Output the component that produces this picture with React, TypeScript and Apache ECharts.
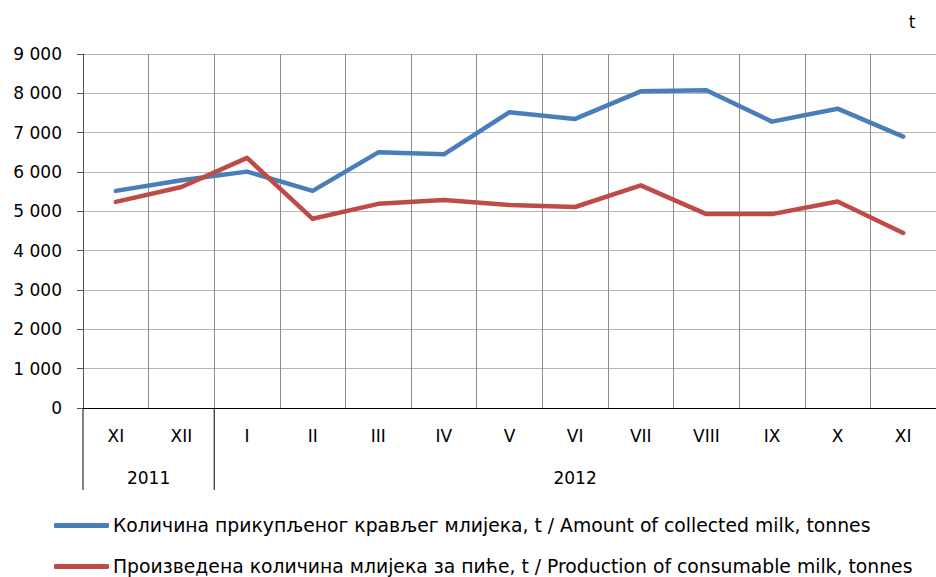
import React, { useEffect, useRef } from "react";
import * as echarts from "echarts";

const months = ["XI", "XII", "I", "II", "III", "IV", "V", "VI", "VII", "VIII", "IX", "X", "XI"];
const years = [
  { label: "2011", from: 0, to: 1 },
  { label: "2012", from: 2, to: 12 },
];
const collectedMilk = [5520, 5790, 6010, 5520, 6500, 6450, 7520, 7350, 8050, 8080, 7280, 7610, 6900];
const consumableMilk = [5240, 5620, 6360, 4810, 5190, 5290, 5160, 5110, 5660, 4930, 4930, 5250, 4450];
const seriesNames = [
  "Количина прикупљеног крављег млијека, t / Amount of collected milk, tonnes",
  "Произведена количина млијека за пиће, t / Production of consumable milk, tonnes",
];
const yTicks = { min: 0, max: 9000, interval: 1000 };
const unitLabel = "t";

const FONT = "DejaVu Sans";
const COLORS = ["#4a7ebb", "#be4b48"];

export default function App() {
  const ref = useRef<HTMLDivElement>(null);
  useEffect(() => {
    document.body.style.margin = "0";
    const chart = echarts.init(ref.current!, null, { renderer: "svg" });
    const legendTops = [516, 557];
    chart.setOption({
      animation: false,
      textStyle: { fontFamily: FONT },
      grid: { left: 83, right: -2, top: 54, bottom: 169, containLabel: false },
      xAxis: {
        type: "category",
        data: months,
        boundaryGap: true,
        axisLine: { lineStyle: { color: "#000", width: 1 } },
        axisTick: { show: false },
        axisLabel: { color: "#000", fontSize: 17, margin: 19, fontFamily: FONT, interval: 0 },
        splitLine: { show: true, lineStyle: { color: "#8c8c8c", width: 1 } },
      },
      yAxis: {
        type: "value",
        min: yTicks.min,
        max: yTicks.max,
        interval: yTicks.interval,
        axisLine: { show: true, lineStyle: { color: "#555", width: 1 } },
        axisTick: { show: true, length: 6, lineStyle: { color: "#555" } },
        axisLabel: {
          color: "#000",
          fontSize: 17,
          margin: 21,
          fontFamily: FONT,
          formatter: (v: number) => String(v).replace(/\B(?=(\d{3})+(?!\d))/g, " "),
        },
        splitLine: { show: true, lineStyle: { color: "#b5b5b5", width: 1 } },
      },
      legend: seriesNames.map((name, i) => ({
        orient: "horizontal",
        left: 54,
        top: legendTops[i],
        padding: 0,
        itemWidth: 55,
        itemHeight: 5,
        icon: "roundRect",
        itemStyle: { color: COLORS[i] },
        textStyle: { color: "#000", fontSize: 18.8, fontFamily: FONT, padding: [0, 0, 0, -1] },
        data: [name],
      })),
      series: [
        {
          name: seriesNames[0],
          type: "line",
          data: collectedMilk,
          symbol: "none",
          lineStyle: { color: COLORS[0], width: 4.5, cap: "round", join: "round" },
          itemStyle: { color: COLORS[0] },
        },
        {
          name: seriesNames[1],
          type: "line",
          data: consumableMilk,
          symbol: "none",
          lineStyle: { color: COLORS[1], width: 4.5, cap: "round", join: "round" },
          itemStyle: { color: COLORS[1] },
        },
      ],
    });

    const c0 = chart.convertToPixel({ xAxisIndex: 0 }, 0) as number;
    const c1 = chart.convertToPixel({ xAxisIndex: 0 }, 1) as number;
    const band = c1 - c0;
    const y0 = chart.convertToPixel({ yAxisIndex: 0 }, 0) as number;
    const bottomY = y0 + 82;
    const yearY = y0 + 70;
    const graphics: any[] = [];
    years.forEach((yr) => {
      const left = c0 + (yr.from - 0.5) * band;
      const right = c0 + (yr.to + 0.5) * band;
      graphics.push({
        type: "line",
        shape: { x1: left, y1: y0, x2: left, y2: bottomY },
        style: { stroke: "#000", lineWidth: 1 },
      });
      graphics.push({
        type: "text",
        x: (left + right) / 2,
        y: yearY,
        style: {
          text: yr.label,
          fill: "#000",
          font: `17px '${FONT}'`,
          textAlign: "center",
          textVerticalAlign: "middle",
        },
      });
    });
    graphics.push({
      type: "text",
      x: 912,
      y: 22,
      style: { text: unitLabel, fill: "#000", font: `17px '${FONT}'`, textAlign: "center", textVerticalAlign: "middle" },
    });
    chart.setOption({ graphic: graphics });

    return () => chart.dispose();
  }, []);
  return <div ref={ref} style={{ width: 936, height: 577 }} />;
}
